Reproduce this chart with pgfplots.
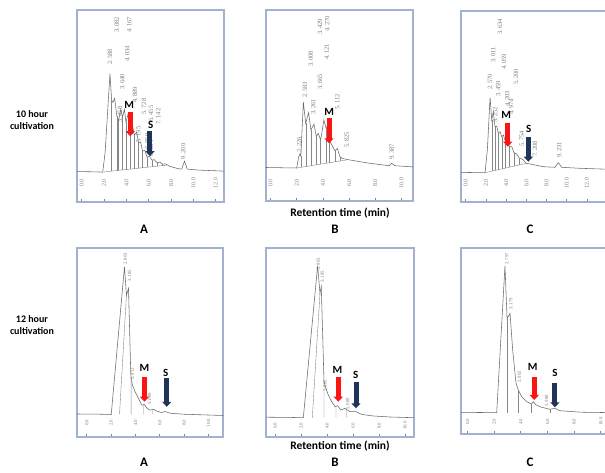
\documentclass[border=0pt]{standalone}
\usepackage{pgfplots}
\pgfplotsset{compat=1.18}
\usepackage{fontspec}
\setmainfont{Carlito}
\newfontfamily\pk{Liberation Serif}
\usetikzlibrary{arrows.meta}
\definecolor{framec}{RGB}{160,178,206}
\definecolor{tracec}{RGB}{105,105,105}
\definecolor{dropc}{RGB}{135,135,135}
\definecolor{labc}{RGB}{128,128,128}
\definecolor{redc}{RGB}{250,20,20}
\definecolor{navyc}{RGB}{30,52,88}
\pgfplotsset{
  chrom/.style={
    scale only axis, anchor=south west,
    axis line style={draw=framec, line width=1.3pt},
    ytick=\empty, xtick pos=left, tick align=inside,
    major tick length=2.5pt,
    every tick/.style={draw=labc, line width=0.7pt},
    xticklabel style={yshift=#1, rotate=90, anchor=center, font=\pk\fontsize{6}{6}\selectfont, text=labc},
    clip=false, unbounded coords=jump,
  },
}
\tikzset{
  trace/.style={draw=tracec, line width=0.55pt},
  drop/.style={draw=dropc, line width=0.4pt},
  pl/.style={font=\pk\fontsize{6.5}{6.5}\selectfont, text=labc, rotate=90, anchor=west, inner sep=0pt},
  pls/.style={font=\pk\fontsize{4.8}{4.8}\selectfont, text=labc, rotate=90, anchor=west, inner sep=0pt},
  let/.style={font=\bfseries\fontsize{11}{11}\selectfont, inner sep=0pt},
  marr/.style={draw=redc, line width=5pt, -{Triangle[length=5pt,width=9pt]}},
  sarr/.style={draw=navyc, line width=5pt, -{Triangle[length=5pt,width=9pt]}},
}
\begin{document}
\begin{tikzpicture}
\useasboundingbox (0,0) rectangle (605pt,473pt);
\clip (0,0) rectangle (605pt,473pt);
\fill[white] (0,0) rectangle (605pt,473pt);

% ---------- Top A ----------
\begin{axis}[chrom=19pt, at={(77pt,271pt)}, width=147pt, height=192pt,
  xmin=-0.42, xmax=12.74, ymin=-30, ymax=162.7,
  xtick={0,2,...,12}, xticklabels={0.0,2.0,4.0,6.0,8.0,10.0,12.0}]
\addplot[trace] coordinates {(-0.42,0.5) (1.0,0.3) (1.88,0) (2.1,20) (2.53,98.7) (2.68,72) (2.8,70) (2.95,74) (3.15,56) (3.3,52) (3.5,63) (3.65,55) (3.82,63) (3.97,50) (4.14,58) (4.33,44) (4.53,48) (4.71,37) (4.92,40) (5.1,29) (5.28,30) (5.45,21) (5.65,22) (5.85,15) (6.05,16) (6.3,12) (6.5,12.5) (6.75,9.5) (7.0,10) (7.25,8) (7.5,8.2) (7.9,5.7) (8.65,3.4) (8.95,3) (9.2,11) (9.45,3) (10.5,2) (12.74,1)};
\addplot[drop] coordinates {(1.88,0) (7.6,7)};
\addplot[drop] coordinates {(2.68,1.0) (2.68,72) (2.7,nan) (3.15,1.55) (3.15,56) (3.2,nan) (3.3,1.74) (3.3,52) (3.4,nan) (3.65,2.17) (3.65,55) (3.7,nan) (3.97,2.56) (3.97,50) (4.0,nan) (4.33,3.0) (4.33,44) (4.4,nan) (4.71,3.46) (4.71,37) (4.8,nan) (5.1,3.94) (5.1,29) (5.2,nan) (5.45,4.37) (5.45,21) (5.5,nan) (5.85,4.86) (5.85,15) (5.9,nan) (6.3,5.41) (6.3,12) (6.4,nan) (6.75,5.96) (6.75,9.5) (6.8,nan) (7.25,6.57) (7.25,8)};
\node[pl] at (axis cs:2.53,107.7) {2.\,588};
\node[pl] at (axis cs:3.13,139.7) {3.\,082};
\node[pl] at (axis cs:4.26,139.7) {4.\,167};
\node[pl] at (axis cs:4.08,110.7) {4.\,034};
\node[pl] at (axis cs:3.63,82.7) {3.\,640};
\node[pl] at (axis cs:3.43,49.7) {3.\,458};
\node[pl] at (axis cs:4.77,69.7) {4.\,889};
\node[pl] at (axis cs:5.58,57.7) {5.\,728};
\node[pl] at (axis cs:6.2,50.7) {6.\,455};
\node[pl] at (axis cs:6.86,47.7) {7.\,142};
\node[pl] at (axis cs:5.07,29.7) {5.\,195};
\node[pl] at (axis cs:5.87,22.7) {6.\,050};
\node[pl] at (axis cs:6.2,15.7) {6.\,884};
\node[pl] at (axis cs:9.1,12.7) {9.\,200};
\addplot[marr] coordinates {(4.35,60) (4.35,36)};
\addplot[sarr] coordinates {(6.11,41) (6.11,16)};
\node[let] at (axis cs:4.26,67) {M};
\node[let] at (axis cs:6.18,47.7) {S};
\end{axis}

% ---------- Top B ----------
\begin{axis}[chrom=18pt, at={(266pt,272pt)}, width=147pt, height=191pt,
  xmin=-0.34, xmax=10.88, ymin=-33, ymax=158,
  xtick={0,2,...,10}, xticklabels={0.0,2.0,4.0,6.0,8.0,10.0}]
\addplot[trace] coordinates {(-0.34,0.5) (1.0,0.2) (2.0,0) (2.15,11) (2.25,14) (2.32,12) (2.51,66) (2.69,44.7) (2.91,55.3) (3.09,38) (3.32,44) (3.5,31.3) (3.65,34.7) (3.83,28) (4.08,48) (4.24,40) (4.35,42) (4.52,27) (4.75,21.3) (4.94,17) (5.1,19.7) (5.3,11.3) (5.5,9.5) (5.69,9) (6.07,8) (6.83,6.3) (7.6,4.7) (8.6,3) (9.07,2.3) (9.25,4.7) (9.5,2.3) (10.65,1.3) (10.88,1)};
\addplot[drop] coordinates {(2.0,0) (5.8,8)};
\addplot[drop] coordinates {(2.32,0.67) (2.32,12) (2.4,nan) (2.69,1.45) (2.69,44.7) (2.7,nan) (3.09,2.29) (3.09,38) (3.1,nan) (3.5,3.16) (3.5,31.3) (3.6,nan) (3.83,3.85) (3.83,28) (3.9,nan) (4.24,4.72) (4.24,40) (4.3,nan) (4.52,5.3) (4.52,27) (4.6,nan) (4.94,6.19) (4.94,17) (5.0,nan) (5.3,6.95) (5.3,11.3)};
\node[pl] at (axis cs:2.2,15) {2.\,226};
\node[pl] at (axis cs:2.63,70) {2.\,583};
\node[pl] at (axis cs:3.27,53) {3.\,261};
\node[pl] at (axis cs:3.07,101) {3.\,008};
\node[pl] at (axis cs:3.78,78) {3.\,665};
\node[pl] at (axis cs:3.78,133) {3.\,429};
\node[pl] at (axis cs:4.29,108) {4.\,121};
\node[pl] at (axis cs:4.34,136) {4.\,270};
\node[pl] at (axis cs:5.1,58) {5.\,112};
\node[pl] at (axis cs:5.82,20) {5.\,825};
\node[pl] at (axis cs:9.25,8) {9.\,387};
\addplot[marr] coordinates {(4.47,50) (4.47,24.7)};
\node[let] at (axis cs:4.49,56.3) {M};
\end{axis}

% ---------- Top C ----------
\begin{axis}[chrom=19pt, at={(461pt,271pt)}, width=154pt, height=191pt,
  xmin=-0.47, xmax=14.78, ymin=-29.3, ymax=161.7,
  xtick={0,2,...,12}, xticklabels={0.0,2.0,4.0,6.0,8.0,10.0,12.0}]
\addplot[trace] coordinates {(-0.47,0.3) (1.91,0) (2.14,22.7) (2.41,75.4) (2.57,52.7) (2.73,61) (2.9,46) (3.07,46.7) (3.23,39.4) (3.4,41) (3.56,36) (3.73,37.7) (3.93,31) (4.12,32.7) (4.32,26) (4.55,26) (4.78,20) (5.05,18.7) (5.31,14.4) (5.64,13.4) (5.97,9.4) (6.37,8.7) (6.86,7.7) (7.68,6) (8.84,5.4) (9.17,10) (9.5,5.4) (11.3,4.4) (14.78,3.2)};
\addplot[drop] coordinates {(1.91,0) (6.04,9.4)};
\addplot[drop] coordinates {(2.57,1.5) (2.57,52.7) (2.6,nan) (2.9,2.25) (2.9,46) (3.0,nan) (3.23,3.0) (3.23,39.4) (3.3,nan) (3.56,3.76) (3.56,36) (3.6,nan) (3.93,4.6) (3.93,31) (4.0,nan) (4.32,5.49) (4.32,26) (4.4,nan) (4.78,6.53) (4.78,20) (4.8,nan) (5.31,7.74) (5.31,14.4) (5.4,nan) (5.97,9.24) (5.97,9.4)};
\node[pl] at (axis cs:2.41,82.7) {2.\,570};
\node[pl] at (axis cs:2.73,109.7) {3.\,011};
\node[pl] at (axis cs:3.4,137.7) {3.\,634};
\node[pl] at (axis cs:3.23,75.7) {3.\,459};
\node[pl] at (axis cs:2.93,49.7) {3.\,252};
\node[pl] at (axis cs:3.79,102.7) {4.\,059};
\node[pl] at (axis cs:4.12,65.7) {4.\,203};
\node[pl] at (axis cs:4.51,57.7) {4.\,974};
\node[pl] at (axis cs:4.98,87.7) {5.\,200};
\node[pl] at (axis cs:5.54,25.7) {5.\,754};
\node[pl] at (axis cs:6.86,15.7) {7.\,208};
\node[pl] at (axis cs:9.27,14.7) {9.\,231};
\addplot[marr] coordinates {(4.16,50) (4.16,26)};
\addplot[sarr] coordinates {(6.2,36) (6.2,11)};
\node[let] at (axis cs:4.0,57.7) {M};
\node[let] at (axis cs:6.24,43.4) {S};
\end{axis}

% ---------- Bottom A ----------
\begin{axis}[chrom=14pt, at={(77pt,36pt)}, width=146pt, height=189pt,
  xmin=-0.8, xmax=11.19, ymin=-22.5, ymax=166.5,
  xtick={0,2,...,10}, xticklabels={0.0,2.0,4.0,6.0,8.0,10.0},
  xticklabel style={font=\pk\fontsize{4.8}{5}\selectfont}]
\addplot[trace] coordinates {(-0.8,0.5) (1.0,0.3) (2.01,0) (3.10,147.6) (3.26,119.3) (3.43,126) (3.62,39.3) (3.75,29.3) (3.98,22.6) (4.25,16) (4.52,9.3) (4.74,10) (4.93,6.6) (5.2,4.3) (5.48,5.3) (5.75,3.3) (6.16,2) (6.43,3) (6.84,1.3) (7.93,0.3) (11.19,-1)};
\addplot[drop] coordinates {(2.69,0) (3.26,119.3) (3.3,nan) (3.64,0) (3.64,37) (3.7,nan) (4.66,0) (4.66,9.8) (4.7,nan) (5.42,0) (5.42,5)};
\node[pls] at (axis cs:3.16,149.5) {2.\,803};
\node[pls] at (axis cs:3.51,132.5) {3.\,185};
\node[pls] at (axis cs:3.75,34.5) {3.\,813};
\node[pls] at (axis cs:5.15,9.5) {5.\,089};
\addplot[marr] coordinates {(4.74,37.8) (4.74,12.8)};
\addplot[sarr] coordinates {(6.57,36) (6.57,7.7)};
\node[let] at (axis cs:4.74,46.2) {M};
\node[let] at (axis cs:6.49,42) {S};
\end{axis}

% ---------- Bottom B ----------
\begin{axis}[chrom=11.3pt, at={(266pt,36pt)}, width=148pt, height=189pt,
  xmin=-0.69, xmax=10.69, ymin=-19.3, ymax=169.7,
  xtick={0,2,...,10}, xticklabels={0.0,2.0,4.0,6.0,8.0,10.0},
  xticklabel style={font=\pk\fontsize{4.8}{5}\selectfont}]
\addplot[trace] coordinates {(-0.69,0.5) (1.0,0.3) (2.18,0) (3.28,152) (3.46,124.4) (3.56,131) (3.77,36) (3.9,30) (4.1,22.7) (4.36,16) (4.62,11) (4.82,12) (5.05,7.7) (5.38,9.3) (5.77,6) (6.23,6) (6.67,3.3) (7.56,1.7) (8.84,0.7) (10.69,0)};
\addplot[drop] coordinates {(2.87,0) (3.46,124.4) (3.5,nan) (3.77,0) (3.77,36) (3.8,nan) (4.69,0) (4.69,11.3) (4.7,nan) (5.52,0) (5.52,8)};
\node[pls] at (axis cs:3.33,147.7) {2.\,803};
\node[pls] at (axis cs:3.64,134.7) {3.\,185};
\node[pls] at (axis cs:3.85,25.7) {3.\,805};
\node[pls] at (axis cs:5.6,7.7) {5.\,089};
\addplot[marr] coordinates {(4.87,41) (4.87,16)};
\addplot[sarr] coordinates {(6.23,36) (6.23,9.4)};
\node[let] at (axis cs:4.8,47.7) {M};
\node[let] at (axis cs:6.2,42.7) {S};
\end{axis}

% ---------- Bottom C ----------
\begin{axis}[chrom=12.3pt, at={(461pt,39pt)}, width=154pt, height=186pt,
  xmin=-0.49, xmax=11.07, ymin=-21.3, ymax=164.7,
  xtick={0,2,...,10}, xticklabels={0.0,2.0,4.0,6.0,8.0,10.0},
  xticklabel style={font=\pk\fontsize{4.8}{5}\selectfont}]
\addplot[trace] coordinates {(-0.49,0.3) (1.0,0.2) (2.19,0) (2.81,146.7) (2.97,94) (3.19,99.4) (3.39,62.7) (3.64,29.4) (3.81,22.7) (4.07,16) (4.44,11) (4.81,8.7) (4.94,11) (5.14,7.7) (5.57,5.4) (6.19,3.4) (6.56,4.4) (6.94,2) (8.5,0.5) (11.07,0)};
\addplot[drop] coordinates {(2.97,0) (2.97,94) (3.0,nan) (3.81,0) (3.81,22.7) (3.9,nan) (4.75,0) (4.75,9) (4.8,nan) (6.19,0) (6.19,3.4)};
\node[pls] at (axis cs:2.94,147.7) {2.\,797};
\node[pls] at (axis cs:3.24,102.7) {3.\,179};
\node[pls] at (axis cs:3.89,29.7) {3.\,802};
\node[pls] at (axis cs:5.94,5.7) {5.\,988};
\addplot[marr] coordinates {(5.01,36) (5.01,12.7)};
\addplot[sarr] coordinates {(6.56,29.4) (6.56,5.4)};
\node[let] at (axis cs:4.89,46) {M};
\node[let] at (axis cs:6.56,39.4) {S};
\end{axis}

% ---------- outer labels ----------
\node[font=\bfseries\fontsize{10}{12.5}\selectfont, align=center] at (32pt,353pt) {10 hour\\cultivation};
\node[font=\bfseries\fontsize{10}{12.5}\selectfont, align=center] at (32pt,148pt) {12 hour\\cultivation};
\node[font=\bfseries\fontsize{11.5}{12}\selectfont] at (340pt,260pt) {Retention time (min)};
\node[font=\bfseries\fontsize{11.5}{12}\selectfont] at (340pt,27pt) {Retention time (min)};
\foreach \x/\l in {144/A,335/B,530/C}{
  \node[font=\bfseries\fontsize{13}{13}\selectfont] at (\x pt,244pt) {\l};
  \node[font=\bfseries\fontsize{13}{13}\selectfont] at (\x pt,11pt) {\l};
}
\end{tikzpicture}
\end{document}
